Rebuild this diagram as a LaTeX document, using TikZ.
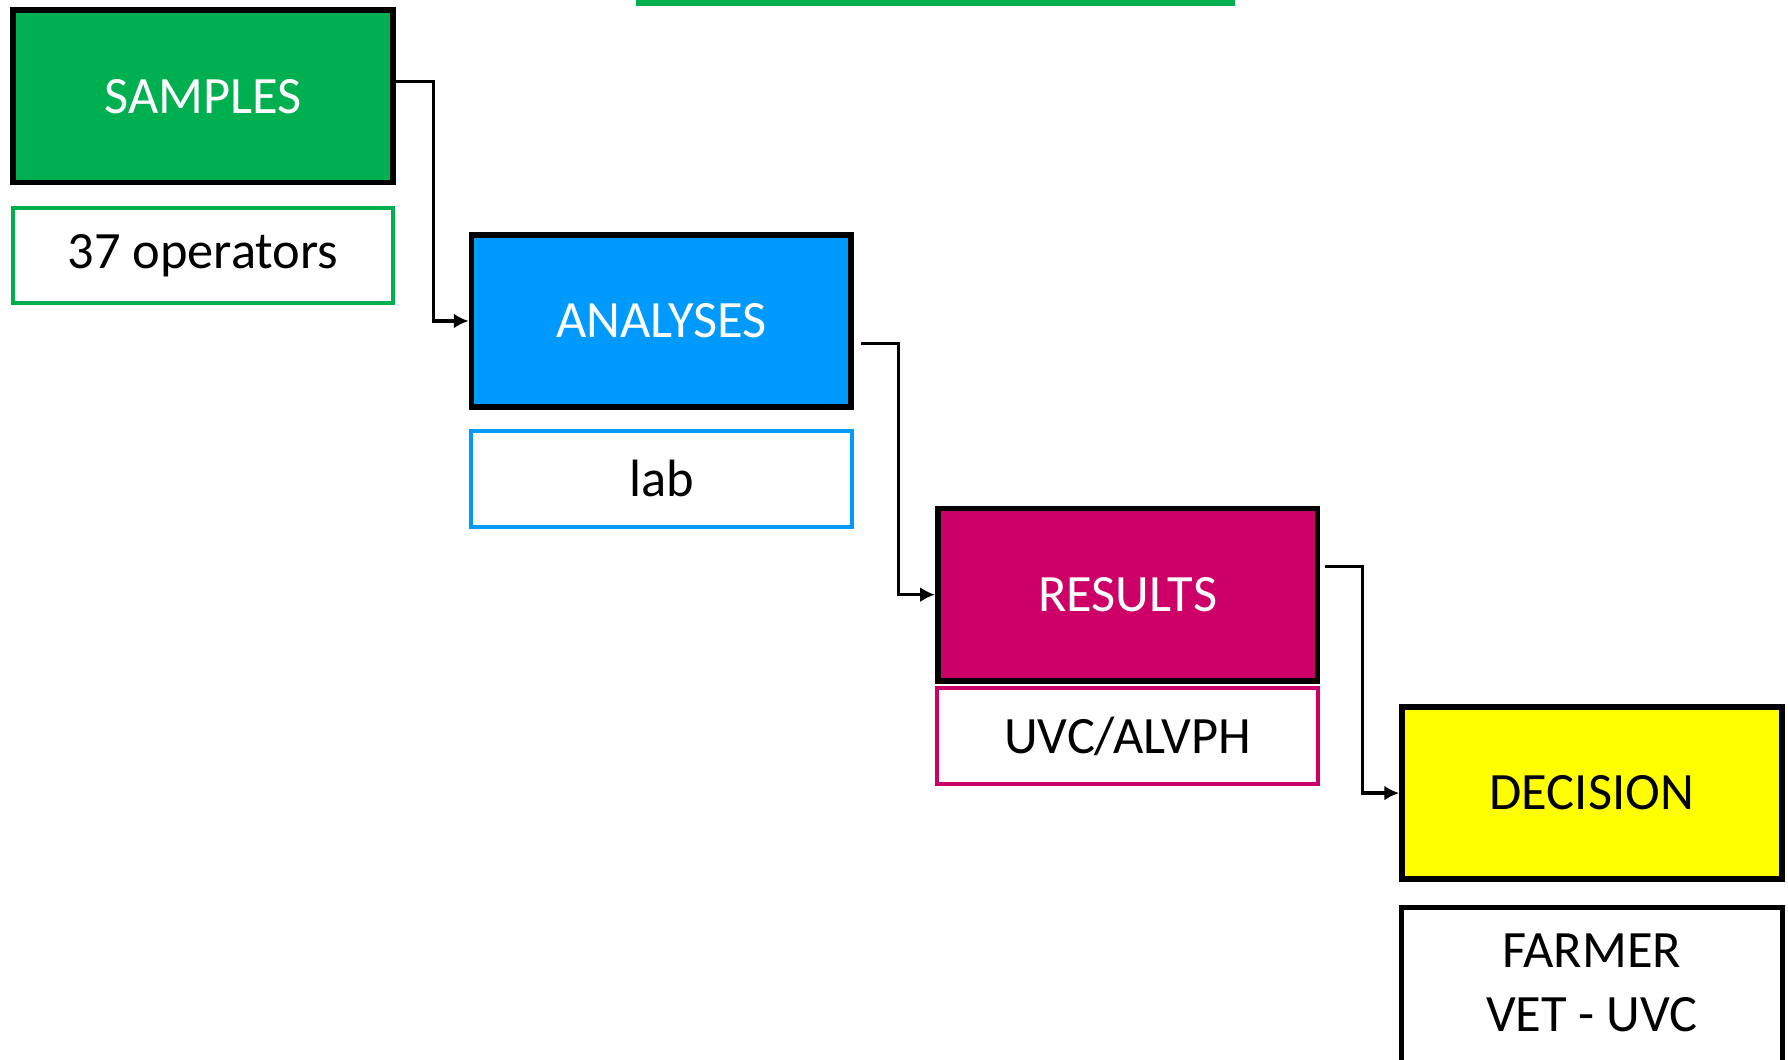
\documentclass[tikz,border=0pt]{standalone}
\usepackage{fontspec}
\setmainfont{Carlito}
\usetikzlibrary{arrows.meta,calc}
\definecolor{cgreen}{HTML}{00B050}
\definecolor{cblue}{HTML}{009AFF}
\definecolor{cmag}{HTML}{CC0066}
\definecolor{cyel}{HTML}{FFFF00}
\tikzset{
  mainbox/.style={draw=black, line width=2.5pt, minimum width=166.5pt, minimum height=75.5pt, inner sep=0pt, font=\fontsize{23}{28}\selectfont},
  subbox/.style={draw=#1, line width=1.75pt, fill=white, minimum width=167pt, minimum height=42pt, inner sep=0pt, text=black, font=\fontsize{23}{28}\selectfont},
  conn/.style={draw=black, line width=1.4pt, -{Latex[length=6.5pt,width=6.5pt]}}
}
\begin{document}
\begin{tikzpicture}[x=0.5pt,y=-0.5pt]
\useasboundingbox (0,0) rectangle (1568,929);
\fill[cgreen] (558,0) rectangle (1083,5.5);
\node[mainbox, fill=cgreen, text=white] (s) at (178,84.5) {SAMPLES};
\node[subbox=cgreen] (so) at (178,224) {37 operators};
\node[mainbox, fill=cblue, text=white] (a) at (580,281.5) {ANALYSES};
\node[subbox=cblue] (lab) at (580,420) {lab};
\node[mainbox, fill=cmag, text=white] (r) at (989,521.5) {RESULTS};
\node[subbox=cmag] (uvc) at (989,645.5) {UVC/ALVPH};
\node[mainbox, fill=cyel, text=black] (d) at (1396,695.5) {DECISION};
\node[minimum width=167pt, minimum height=66pt, inner sep=0pt, outer sep=0pt, align=center, font=\fontsize{23}{28}\selectfont, anchor=north] (f) at (1396,796) {FARMER\\VET - UVC};
\draw[line width=2.2pt] ([yshift=-30pt]f.south west) -- (f.north west) -- (f.north east) -- ([yshift=-30pt]f.south east);
\draw[conn] ([yshift=6.5pt]s.east) -- ++(16.5pt,0) |- (a.west);
\draw[conn] ([xshift=3pt,yshift=-10pt]a.east) -- ++(16.5pt,0) |- (r.west);
\draw[conn] ([xshift=2pt,yshift=12.5pt]r.east) -- ++(16.5pt,0) |- (d.west);
\end{tikzpicture}
\end{document}
